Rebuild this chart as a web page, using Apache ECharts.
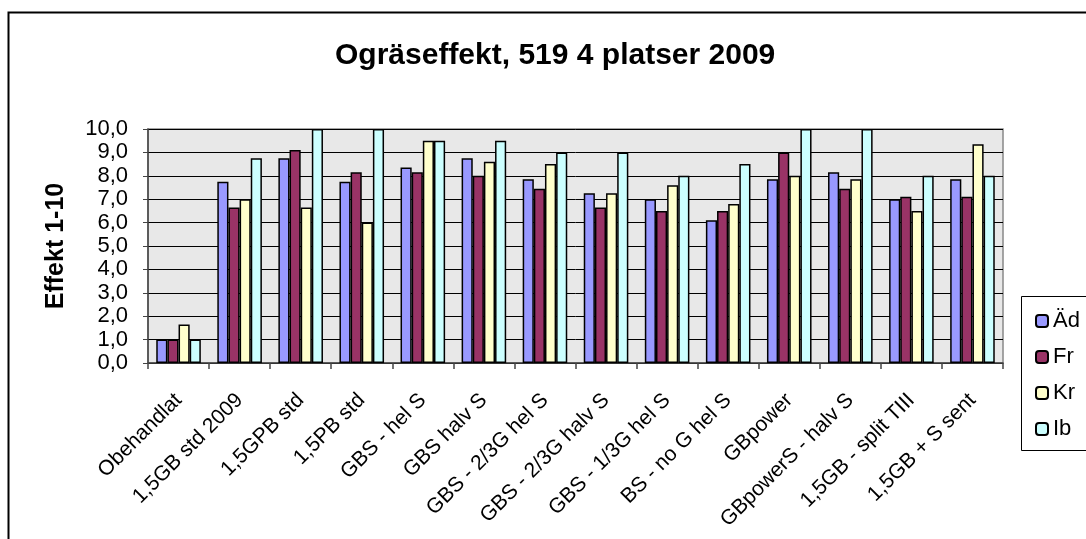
<!DOCTYPE html>
<html>
<head>
<meta charset="utf-8">
<script src="https://cdn.jsdelivr.net/npm/echarts@6/dist/echarts.min.js"></script>
<style>
  html, body { margin: 0; padding: 0; background: #fff; }
  #chart { width: 1086px; height: 539px; }
</style>
</head>
<body>
<div id="chart"></div>
<script>
// Kategorier (behandlingar)
const categories = [
  'Obehandlat', '1,5GB std 2009', '1,5GPB std', '1,5PB std', 'GBS - hel S',
  'GBS halv S', 'GBS - 2/3G hel S', 'GBS - 2/3G halv S', 'GBS - 1/3G hel S',
  'BS - no G hel S', 'GBpower', 'GBpowerS - halv S', '1,5GB - split TIII', '1,5GB + S sent'
];

// Effekt per ogräsart
const adValues = [1.0, 7.75, 8.75, 7.75, 8.35, 8.75, 7.85, 7.25, 7.0, 6.1, 7.85, 8.15, 7.0, 7.85];
const frValues = [1.0, 6.65, 9.1, 8.15, 8.15, 8.0, 7.45, 6.65, 6.5, 6.5, 9.0, 7.45, 7.1, 7.1];
const krValues = [1.65, 7.0, 6.65, 6.0, 9.5, 8.6, 8.5, 7.25, 7.6, 6.8, 8.0, 7.85, 6.5, 9.35];
const ibValues = [1.0, 8.75, 10.0, 10.0, 9.5, 9.5, 9.0, 9.0, 8.0, 8.5, 10.0, 10.0, 8.0, 8.0];

const seriesNames = ['Äd', 'Fr', 'Kr', 'Ib'];
const seriesColors = ['#9999FF', '#993366', '#FFFFCC', '#CCFFFF'];
const seriesData = [adValues, frValues, krValues, ibValues];

const font = '"Liberation Sans", Arial, sans-serif';

const chart = echarts.init(document.getElementById('chart'));

const option = {
  animation: false,
  backgroundColor: '#fff',
  title: {
    text: 'Ogräseffekt, 519 4 platser 2009',
    left: 330,
    top: 36,
    textStyle: { fontFamily: font, fontSize: 30, fontWeight: 'bold', color: '#000' }
  },
  legend: {
    orient: 'vertical',
    left: 1030,
    top: 305,
    itemWidth: 12,
    itemHeight: 12,
    itemGap: 14,
    data: seriesNames,
    textStyle: { fontFamily: font, fontSize: 22, color: '#000', padding: [0, 0, 0, 0] }
  },
  grid: {
    left: 148,
    top: 129,
    right: 83,
    bottom: 176,
    show: true,
    backgroundColor: '#e8e8e8',
    borderColor: '#888',
    borderWidth: 1.5
  },
  xAxis: {
    type: 'category',
    data: categories,
    axisLine: { lineStyle: { color: '#444', width: 1.5 } },
    axisTick: { show: true, length: 6, lineStyle: { color: '#444', width: 1.5 } },
    axisLabel: {
      rotate: 45,
      interval: 0,
      margin: 34,
      fontFamily: font,
      fontSize: 21,
      color: '#000'
    }
  },
  yAxis: {
    type: 'value',
    min: 0,
    max: 10,
    interval: 1,
    name: 'Effekt 1-10',
    nameLocation: 'middle',
    nameRotate: 90,
    nameGap: 79,
    nameTextStyle: { fontFamily: font, fontSize: 25, fontWeight: 'bold', color: '#000' },
    axisLine: { show: true, lineStyle: { color: '#444', width: 1.5 } },
    axisTick: { show: true, length: 5, lineStyle: { color: '#444' } },
    splitLine: { lineStyle: { color: '#000', width: 1 } },
    axisLabel: {
      margin: 20,
      fontFamily: font,
      fontSize: 22,
      color: '#000',
      formatter: v => v.toFixed(1).replace('.', ',')
    }
  },
  series: seriesNames.map((name, i) => ({
    name: name,
    type: 'bar',
    data: seriesData[i],
    barGap: '0%',
    barCategoryGap: '27%',
    itemStyle: { color: seriesColors[i], borderColor: '#000', borderWidth: 1.5 }
  })),
  graphic: [
    {
      type: 'rect',
      shape: { x: 8.5, y: 12.5, width: 1100, height: 560 },
      style: { fill: 'none', stroke: '#000', lineWidth: 2 },
      silent: true
    },
    {
      type: 'rect',
      shape: { x: 1021.5, y: 296.5, width: 100, height: 154 },
      style: { fill: 'none', stroke: '#000', lineWidth: 1 },
      silent: true
    }
  ]
};

chart.setOption(option);
</script>
</body>
</html>
